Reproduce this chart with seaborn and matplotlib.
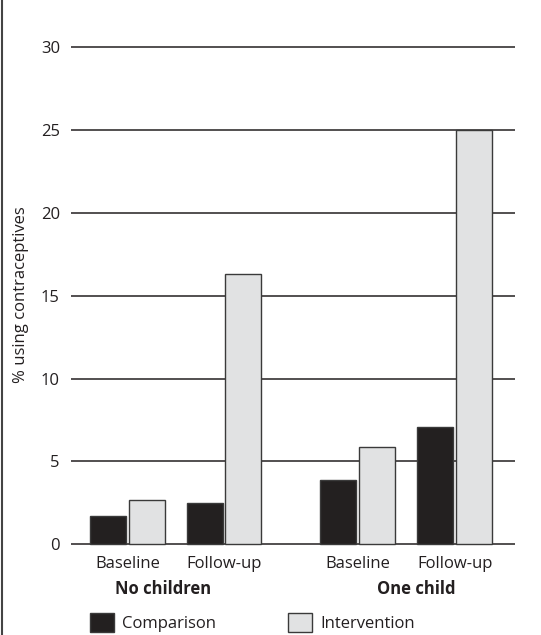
import matplotlib
matplotlib.use("Agg")
import matplotlib.pyplot as plt
import seaborn as sns
import pandas as pd
from matplotlib.lines import Line2D

groups = ["No children", "One child"]
times = ["Baseline", "Follow-up"]
series = ["Comparison", "Intervention"]
comparison_no_children = [1.7, 2.5]
intervention_no_children = [2.7, 16.3]
comparison_one_child = [3.9, 7.1]
intervention_one_child = [5.9, 25.0]
yticks = [0, 5, 10, 15, 20, 25, 30]
ylabel = "% using contraceptives"

colors = {"Comparison": "#231f20", "Intervention": "#e1e2e3"}
FS = 12

sns.set_style("white")
plt.rcParams["font.family"] = ["Open Sans", "DejaVu Sans"]

fig = plt.figure(figsize=(5.41, 6.35), dpi=100)
W, H = 541, 635
y0_px, ppu = 544.3, 16.57
ylo, yhi = -0.3, 30.3
bottom = (H - (y0_px - ylo * ppu)) / H
height = (yhi - ylo) * ppu / H

ax1 = fig.add_axes([71 / W, bottom, 220 / W, height])
ax2 = fig.add_axes([291 / W, bottom, 224 / W, height])

data = {
    "No children": (comparison_no_children, intervention_no_children),
    "One child": (comparison_one_child, intervention_one_child),
}

for ax, g, xl in [(ax1, groups[0], (-0.585, 1.694)), (ax2, groups[1], (-0.686, 1.62))]:
    comp, inter = data[g]
    df = pd.DataFrame({
        "time": times * 2,
        "series": ["Comparison"] * 2 + ["Intervention"] * 2,
        "value": comp + inter,
    })
    sns.barplot(data=df, x="time", y="value", hue="series", order=times,
                hue_order=series, palette=colors, gap=0.07, width=0.8,
                edgecolor="#3a3a3a", linewidth=1.0, ax=ax, legend=True,
                zorder=3)
    ax.set_xlim(*xl)
    ax.set_ylim(ylo, yhi)
    ax.set_yticks(yticks)
    ax.yaxis.grid(True, color="#231f20", linewidth=1.1, zorder=0)
    ax.set_axisbelow(True)
    for s in ax.spines.values():
        s.set_visible(False)
    ax.tick_params(axis="both", length=0, labelsize=FS, colors="#231f20", pad=5)
    ax.tick_params(axis="y", pad=8)
    ax.set_xlabel("")
    ax.set_ylabel("")
    ax.get_legend().remove()

ax2.set_yticklabels([])
fig.text(21 / W, 1 - 295 / H, ylabel, rotation=90, ha="center", va="center",
         fontsize=FS, color="#231f20")

fig.text(163 / W, 1 - 589 / H, groups[0], ha="center", va="center",
         fontsize=FS, fontweight="bold", color="#231f20")
fig.text(416 / W, 1 - 589 / H, groups[1], ha="center", va="center",
         fontsize=FS, fontweight="bold", color="#231f20")

handles, labels = ax1.get_legend_handles_labels()
leg = fig.legend(handles, labels, ncol=2, loc="upper left",
                 bbox_to_anchor=(78 / W, 1 - 601 / H), frameon=False,
                 fontsize=FS, handlelength=1.45, handleheight=1.45,
                 handletextpad=0.5, columnspacing=4.3, borderpad=0.2)
for t in leg.get_texts():
    t.set_color("#231f20")

fig.add_artist(Line2D([1.5 / W, 1.5 / W], [0, 1], color="#444444", linewidth=1.5))

fig.savefig("out.png", dpi=100)
